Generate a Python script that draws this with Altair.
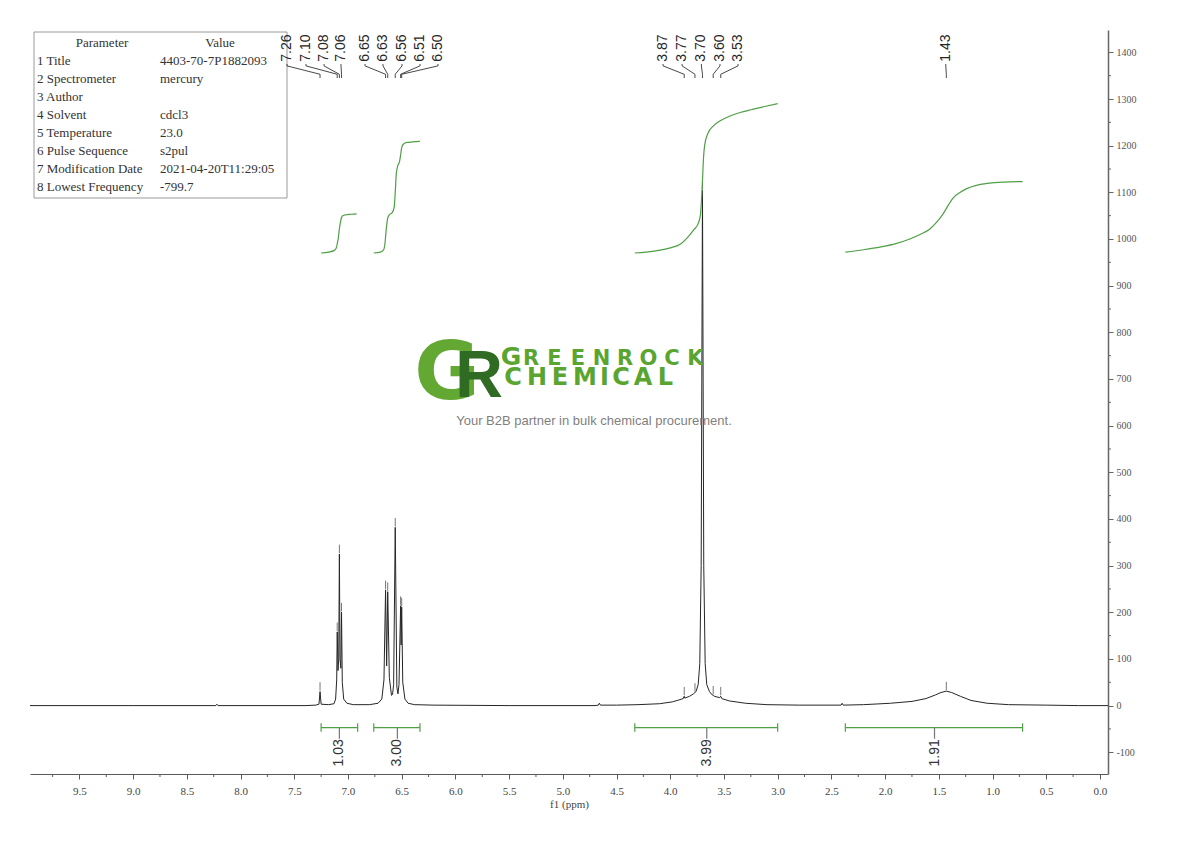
import altair as alt
import pandas as pd

# ---------------- data ----------------
spec_ppm = [9.96, 9.0, 8.23, 8.22, 8.21, 7.40, 7.30, 7.27, 7.26, 7.25, 7.18, 7.13, 7.115, 7.105, 7.10,
            7.093, 7.086, 7.08, 7.074, 7.066, 7.06, 7.053, 7.04, 7.01, 6.95, 6.80, 6.72, 6.685, 6.665,
            6.65, 6.64, 6.63, 6.615, 6.595, 6.585, 6.575, 6.56, 6.545, 6.535, 6.525, 6.51, 6.505, 6.50,
            6.49, 6.47, 6.44, 6.38, 6.2, 5.5, 4.70, 4.67, 4.66, 4.65, 4.50, 4.30, 4.10, 3.98, 3.92, 3.88,
            3.87, 3.865, 3.82, 3.785, 3.77, 3.76, 3.74, 3.725, 3.712, 3.70, 3.688, 3.675, 3.66, 3.635,
            3.61, 3.60, 3.59, 3.54, 3.53, 3.52, 3.45, 3.30, 3.10, 2.80, 2.42, 2.41, 2.40, 2.39, 2.20,
            1.95, 1.75, 1.62, 1.53, 1.48, 1.43, 1.38, 1.30, 1.20, 1.05, 0.85, 0.5, 0.2, -0.075]
spec_int = [0, 0, 0, 3, 0, 0, 1, 3, 30, 3, 2, 4, 14, 55, 158,
            75, 100, 325, 100, 80, 200, 50, 14, 5, 2, 2, 5, 14, 55,
            248, 85, 244, 60, 22, 24, 45, 382, 40, 25, 45, 214, 130, 211,
            50, 14, 5, 2, 1, 0, 0, 1, 5, 1, 1, 2, 4, 8, 12, 15,
            20, 16, 20, 25, 28, 30, 45, 90, 300, 1105, 300, 90, 45, 30,
            23, 22, 20, 17, 20, 15, 10, 5, 2, 1, 1, 1, 5, 1, 2,
            5, 9, 15, 23, 28, 31, 28, 20, 11, 5, 2, 1, 0, 0]

peak_text = ["7.26", "7.10", "7.08", "7.06", "6.65", "6.63", "6.56", "6.51", "6.50",
             "3.87", "3.77", "3.70", "3.60", "3.53", "1.43"]
peak_ppm = [7.26, 7.10, 7.08, 7.06, 6.65, 6.63, 6.56, 6.51, 6.50, 3.87, 3.77, 3.70, 3.60, 3.53, 1.43]
peak_top = [30, 158, 325, 200, 248, 244, 382, 214, 211, 20, 28, 1105, 22, 20, 31]
label_ppm = [7.568, 7.391, 7.223, 7.065, 6.841, 6.674, 6.497, 6.329, 6.162,
             4.067, 3.890, 3.71, 3.537, 3.369, 1.435]

int1_ppm = [7.25, 7.18, 7.13, 7.11, 7.10, 7.09, 7.08, 7.07, 7.06, 7.05, 7.02, 6.97, 6.92]
int1_val = [970, 972, 975, 980, 990, 1002, 1022, 1036, 1046, 1050, 1052, 1053, 1054]
int2_ppm = [6.76, 6.70, 6.67, 6.655, 6.645, 6.63, 6.615, 6.59, 6.57, 6.56, 6.55, 6.535, 6.52,
            6.51, 6.50, 6.485, 6.45, 6.40, 6.33]
int2_val = [970, 972, 976, 992, 1018, 1045, 1052, 1056, 1068, 1100, 1140, 1158, 1166,
            1180, 1196, 1203, 1207, 1208, 1209]
int3_ppm = [4.33, 4.15, 4.00, 3.90, 3.84, 3.78, 3.74, 3.72, 3.71, 3.70, 3.69, 3.68, 3.65, 3.60,
            3.53, 3.45, 3.35, 3.25, 3.12, 3.00]
int3_val = [970, 974, 981, 990, 1003, 1020, 1033, 1050, 1080, 1125, 1175, 1200, 1226, 1242,
            1254, 1263, 1271, 1277, 1284, 1290]
int4_ppm = [2.37, 2.20, 2.04, 1.90, 1.77, 1.67, 1.58, 1.52, 1.46, 1.41, 1.37, 1.30, 1.24, 1.15,
            1.05, 0.90, 0.72]
int4_val = [972, 977, 983, 990, 1000, 1010, 1022, 1036, 1054, 1073, 1087, 1100, 1108, 1115,
            1119, 1122, 1123]

int_start = [7.25, 6.76, 4.33, 2.37]
int_end = [6.91, 6.33, 3.00, 0.72]
int_center = [7.08, 6.54, 3.66, 1.54]
int_text = ["1.03", "3.00", "3.99", "1.91"]

x_ticks = [0.0, 0.5, 1.0, 1.5, 2.0, 2.5, 3.0, 3.5, 4.0, 4.5, 5.0, 5.5, 6.0, 6.5, 7.0, 7.5, 8.0, 8.5, 9.0, 9.5]
x_minor = [0.25, 0.75, 1.25, 1.75, 2.25, 2.75, 3.25, 3.75, 4.25, 4.75, 5.25, 5.75, 6.25, 6.75,
           7.25, 7.75, 8.25, 8.75, 9.25, 9.75]
y_ticks = [-100, 0, 100, 200, 300, 400, 500, 600, 700, 800, 900, 1000, 1100, 1200, 1300, 1400]
y_minor = [-50, 50, 150, 250, 350, 450, 550, 650, 750, 850, 950, 1050, 1150, 1250, 1350]

param_names = ["1 Title", "2 Spectrometer", "3 Author", "4 Solvent", "5 Temperature",
               "6 Pulse Sequence", "7 Modification Date", "8 Lowest Frequency"]
param_values = ["4403-70-7P1882093", "mercury", "", "cdcl3", "23.0", "s2pul",
                "2021-04-20T11:29:05", "-799.7"]

brand_top = "GREENROCK"
brand_bottom = "CHEMICAL"
tagline = "Your B2B partner in bulk chemical procurement."

# ---------------- layout / style ----------------
W, H = 1078, 744
GREEN = "#4f9f45"
AX = "#5a5a5a"
SERIF = "Liberation Serif"
SANS = "Liberation Sans"
YDOM = [-146.6, 1447.9]

X = alt.X("ppm:Q",
          scale=alt.Scale(domain=[9.96, -0.075], nice=False, zero=False),
          axis=alt.Axis(values=x_ticks, format=".1f", title="f1 (ppm)", grid=False,
                        domainColor=AX, tickColor=AX, tickSize=5, labelFont=SERIF,
                        labelFontSize=11, labelColor="#444", labelPadding=6,
                        titleFont=SERIF, titleFontSize=11, titleFontWeight="normal",
                        titleColor="#444", titlePadding=2))
Y = alt.Y("v:Q",
          scale=alt.Scale(domain=YDOM, nice=False, zero=False),
          axis=alt.Axis(orient="right", values=y_ticks, labelExpr="'' + datum.value", title=None,
                        grid=False, domainColor="#666", domainWidth=1.5, tickColor="#666",
                        tickSize=5, labelFont=SERIF, labelFontSize=10, labelColor="#555",
                        labelPadding=3))

# watermark
wm_g = alt.Chart(pd.DataFrame({"t": ["G"]})).mark_text(
    font="DejaVu Sans", fontWeight="bold", fontSize=80, color="#64a834",
    align="center", baseline="alphabetic").encode(text="t:N", x=alt.value(417), y=alt.value(369))
wm_r = alt.Chart(pd.DataFrame({"t": ["R"]})).mark_text(
    font=SANS, fontWeight="bold", fontSize=66, color="#2f6b22",
    align="center", baseline="alphabetic").encode(text="t:N", x=alt.value(449), y=alt.value(367))

top_df = pd.DataFrame({"ch": list(brand_top), "i": list(range(len(brand_top)))})
wm_top = alt.Chart(top_df).transform_calculate(
    px="datum.i == 0 ? 481 : 501 + (datum.i - 1) * 23.5",
    fs="datum.i == 0 ? 25 : 21",
).mark_text(font="DejaVu Sans", fontWeight="bold", color="#5aa530",
            align="center", baseline="alphabetic").encode(
    text="ch:N", x=alt.X("px:Q", scale=None, axis=None), y=alt.value(335),
    size=alt.Size("fs:Q", scale=None, legend=None))

bot_centers = [483, 507, 530, 555, 574.5, 591, 613, 635.5]
bot_df = pd.DataFrame({"ch": list(brand_bottom), "px": bot_centers})
wm_bot = alt.Chart(bot_df).mark_text(
    font="DejaVu Sans", fontWeight="bold", fontSize=24, color="#5aa530",
    align="center", baseline="alphabetic").encode(
    text="ch:N", x=alt.X("px:Q", scale=None, axis=None), y=alt.value(355))

wm_tag = alt.Chart(pd.DataFrame({"t": [tagline]})).mark_text(
    font=SANS, fontSize=13, color="#7f7f7f", align="center", baseline="middle").encode(
    text="t:N", x=alt.value(564), y=alt.value(391))

# table
tbl_box = alt.Chart(pd.DataFrame({"a": [0]})).mark_rect(
    fill="white", stroke="#9a9a9a", strokeWidth=1).encode(
    x=alt.value(4), x2=alt.value(257), y=alt.value(2), y2=alt.value(168))
tbl_head = alt.Chart(pd.DataFrame({"t": ["Parameter", "Value"], "px": [72, 190]})).mark_text(
    font=SERIF, fontSize=13, color="#333", align="center", baseline="middle").encode(
    text="t:N", x=alt.X("px:Q", scale=None, axis=None), y=alt.value(13))
tbl_df = pd.DataFrame({"name": param_names, "val": param_values, "row": list(range(len(param_names)))})
tbl_c1 = alt.Chart(tbl_df).transform_calculate(py="31 + 18 * datum.row").mark_text(
    font=SERIF, fontSize=13, color="#333", align="left", baseline="middle").encode(
    text="name:N", x=alt.value(7), y=alt.Y("py:Q", scale=None, axis=None))
tbl_c2 = alt.Chart(tbl_df).transform_calculate(py="31 + 18 * datum.row").mark_text(
    font=SERIF, fontSize=13, color="#333", align="left", baseline="middle").encode(
    text="val:N", x=alt.value(130), y=alt.Y("py:Q", scale=None, axis=None))

# spectrum
spec_df = pd.DataFrame({"ppm": spec_ppm, "v": spec_int})
spectrum = alt.Chart(spec_df).mark_line(color="#262626", strokeWidth=1).encode(x=X, y=Y)

# x minor ticks & y minor ticks
xminor = alt.Chart(pd.DataFrame({"ppm": x_minor})).mark_rule(color=AX, strokeWidth=1).encode(
    x=X, y=alt.value(H), y2=alt.value(H + 3))
yminor = alt.Chart(pd.DataFrame({"v": y_minor})).mark_rule(color="#666", strokeWidth=1).encode(
    y=Y, x=alt.value(W), x2=alt.value(W + 3))

# peak markers
mk_df = pd.DataFrame({"ppm": peak_ppm, "v": [t + 2 for t in peak_top], "v2": [t + 20 for t in peak_top]})
markers = alt.Chart(mk_df).mark_rule(color="#777", strokeWidth=1).encode(x=X, y=Y, y2="v2:Q")

# integral curves
int_rows = []
for k, (pp, vv) in enumerate([(int1_ppm, int1_val), (int2_ppm, int2_val),
                              (int3_ppm, int3_val), (int4_ppm, int4_val)]):
    for a, b in zip(pp, vv):
        int_rows.append({"id": k, "ppm": a, "v": b})
integrals = alt.Chart(pd.DataFrame(int_rows)).mark_line(
    color=GREEN, strokeWidth=1.2, interpolate="monotone").encode(x=X, y=Y, detail="id:N")

# integral bars
bar_df = pd.DataFrame({"ppm": int_start, "ppm2": int_end, "v": [-47] * 4})
bars = alt.Chart(bar_df).mark_rule(color=GREEN, strokeWidth=1.2).encode(x=X, x2="ppm2:Q", y=Y)
end_df = pd.DataFrame({"ppm": int_start + int_end, "v": [-38] * 8, "v2": [-56] * 8})
ends = alt.Chart(end_df).mark_rule(color=GREEN, strokeWidth=1.2).encode(x=X, y=Y, y2="v2:Q")
ctr_df = pd.DataFrame({"ppm": int_center, "v": [-47] * 4, "v2": [-71] * 4})
ctrs = alt.Chart(ctr_df).mark_rule(color="#777", strokeWidth=1.2).encode(x=X, y=Y, y2="v2:Q")
il_df = pd.DataFrame({"ppm": int_center, "v": [-72] * 4, "t": int_text})
int_lbl = alt.Chart(il_df).mark_text(
    font=SANS, fontSize=14, color="#333", angle=270, align="right", baseline="middle").encode(
    x=X, y=Y, text="t:N")

# peak labels and leaders
lbl_df = pd.DataFrame({"ppm": label_ppm, "v": [1380] * len(label_ppm), "t": peak_text})
peak_lbl = alt.Chart(lbl_df).mark_text(
    font=SANS, fontSize=14, color="#262626", angle=270, align="left", baseline="middle").encode(
    x=X, y=Y, text="t:N")
lead_rows = []
for i, (lp, pp) in enumerate(zip(label_ppm, peak_ppm)):
    lead_rows += [{"id": i, "o": 0, "ppm": lp, "v": 1375},
                  {"id": i, "o": 1, "ppm": lp, "v": 1371},
                  {"id": i, "o": 2, "ppm": pp, "v": 1353},
                  {"id": i, "o": 3, "ppm": pp, "v": 1345}]
leaders = alt.Chart(pd.DataFrame(lead_rows)).mark_line(color="#333", strokeWidth=0.9).encode(
    x=X, y=Y, detail="id:N", order="o:Q")

chart = alt.layer(
    spectrum, wm_g, wm_r, wm_top, wm_bot, wm_tag,
    xminor, yminor, markers, integrals, bars, ends, ctrs, int_lbl,
    tbl_box, tbl_head, tbl_c1, tbl_c2, peak_lbl, leaders,
).properties(
    width=W, height=H,
    padding={"left": 22, "top": 22, "right": 60, "bottom": 50},
    autosize=alt.AutoSizeParams(type="none"),
).configure(background="white", view=alt.ViewConfig(stroke=None))

chart.save("out.html", embed_options={"renderer": "svg", "actions": False})
